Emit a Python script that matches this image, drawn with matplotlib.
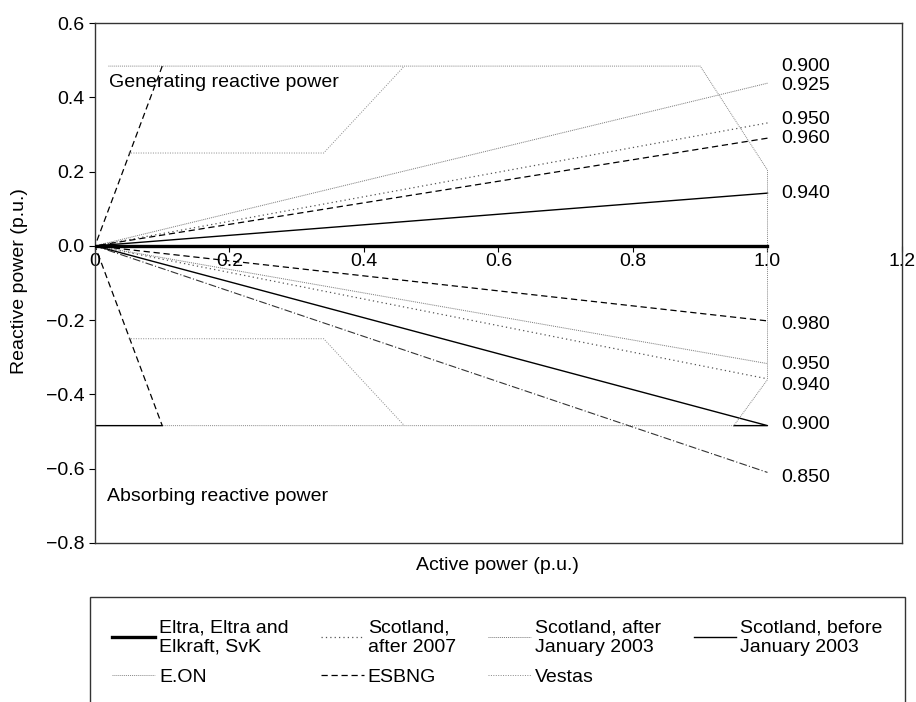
import matplotlib.pyplot as plt
import numpy as np

plt.rcParams['font.family'] = ['Liberation Sans', 'DejaVu Sans']

nan = np.nan

# Active power (p.u.) / reactive power (p.u.) for each grid code
eltra_p = [0.0, 1.0]
eltra_q = [0.0, 0.0]

scot_2007_p = [1.0, 0.0, 1.0]
scot_2007_q = [0.331, 0.0, -0.358]

scot_after_2003_p = [1.0, 0.0, 1.0]
scot_after_2003_q = [0.438, 0.0, -0.317]

scot_before_2003_p = [1.0, 0.0, 1.0, 0.95, nan, 0.0, 0.10]
scot_before_2003_q = [0.142, 0.0, -0.484, -0.484, nan, -0.484, -0.484]

eon_p = [0.02, 0.90, 1.0, 1.0, 0.95, 0.10]
eon_q = [0.484, 0.484, 0.204, -0.36, -0.484, -0.484]
eon_pf_p = [0.0, 1.0]
eon_pf_q = [0.0, -0.61]

esbng_p = [1.0, 0.0, 1.0, nan, 0.10, 0.0, 0.10]
esbng_q = [0.29, 0.0, -0.202, nan, 0.484, 0.0, -0.484]

vestas_p = [0.05, 0.34, 0.46, nan, 0.05, 0.34, 0.46]
vestas_q = [0.25, 0.25, 0.484, nan, -0.25, -0.25, -0.484]

# power factor labels at the right-hand end
pf_labels = ['0.900', '0.925', '0.950', '0.960', '0.940',
             '0.980', '0.950', '0.940', '0.900', '0.850']
pf_q = [0.484, 0.433, 0.341, 0.290, 0.142,
        -0.212, -0.320, -0.376, -0.481, -0.624]

fig = plt.figure(figsize=(9.16, 7.02), dpi=100)
ax = fig.add_axes([0.1037, 0.2265, 0.881, 0.7407])

fs = 14
l_eltra, = ax.plot(eltra_p, eltra_q, color='black', lw=2.4,
                   label="Eltra, Eltra and\nElkraft, SvK", zorder=5)
l_s07, = ax.plot(scot_2007_p, scot_2007_q, color='#555555', lw=0.9,
                 ls=(0, (1, 2.5)), label="Scotland,\nafter 2007")
l_sa03, = ax.plot(scot_after_2003_p, scot_after_2003_q, color='#777777', lw=0.7,
                  ls=(0, (1, 1)), label="Scotland, after\nJanuary 2003")
l_sb03, = ax.plot(scot_before_2003_p, scot_before_2003_q, color='black', lw=1.0,
                  label="Scotland, before\nJanuary 2003")
l_eon, = ax.plot(eon_p, eon_q, color='#888888', lw=0.7, ls=(0, (1, 1)),
                 label="E.ON")
ax.plot(eon_pf_p, eon_pf_q, color='#333333', lw=0.8, ls=(0, (7, 2, 1, 2)))
l_esb, = ax.plot(esbng_p, esbng_q, color='black', lw=0.9, ls=(0, (5, 3)),
                 label="ESBNG")
l_ves, = ax.plot(vestas_p, vestas_q, color='#888888', lw=0.7, ls=(0, (1, 1.5)),
                 label="Vestas")

for txt, q in zip(pf_labels, pf_q):
    ax.text(1.02, q, txt, fontsize=fs, va='center', ha='left')

ax.text(0.021, 0.44, "Generating reactive power", fontsize=fs, va='center')
ax.text(0.018, -0.675, "Absorbing reactive power", fontsize=fs, va='center')

ax.set_xlim(0, 1.2)
ax.set_ylim(-0.8, 0.6)
ax.set_yticks([0.6, 0.4, 0.2, 0.0, -0.2, -0.4, -0.6, -0.8])
ax.set_yticklabels(['0.6', '0.4', '0.2', '0.0', '\u22120.2', '\u22120.4',
                    '\u22120.6', '\u22120.8'])
ax.set_xticks([0, 0.2, 0.4, 0.6, 0.8, 1.0, 1.2])
ax.set_xticklabels(['0', '0.2', '0.4', '0.6', '0.8', '1.0', '1.2'])
ax.tick_params(labelsize=fs, direction='out', length=4, width=0.8)
ax.tick_params(axis='x', pad=1)

# horizontal axis crosses at zero, plot area keeps its frame
ax.spines['bottom'].set_position(('data', 0))
ax.spines['bottom'].set_visible(False)
ax.axhline(-0.8, color='#333333', lw=1.0, clip_on=False)
for s in ['top', 'left', 'right']:
    ax.spines[s].set_color('#333333')
    ax.spines[s].set_linewidth(1.0)

fig.text(0.543, 1 - 565 / 702, "Active power (p.u.)", fontsize=fs,
         ha='center', va='center')
fig.text(0.021, 0.6, "Reactive power (p.u.)", fontsize=fs, rotation=90,
         ha='center', va='center')

handles = [l_eltra, l_eon, l_s07, l_esb, l_sa03, l_ves, l_sb03]
leg = fig.legend(handles=handles, loc='upper left', ncol=4,
                 bbox_to_anchor=(90 / 916, 1 - 597 / 702, 815 / 916, 0),
                 mode='expand', fontsize=fs, frameon=True, fancybox=False,
                 edgecolor='black', handlelength=2.2, handletextpad=0.2,
                 labelspacing=0.65, borderpad=1.15, columnspacing=1.0,
                 borderaxespad=0)
leg.get_frame().set_linewidth(1.0)

fig.savefig("out.png", dpi=100)
